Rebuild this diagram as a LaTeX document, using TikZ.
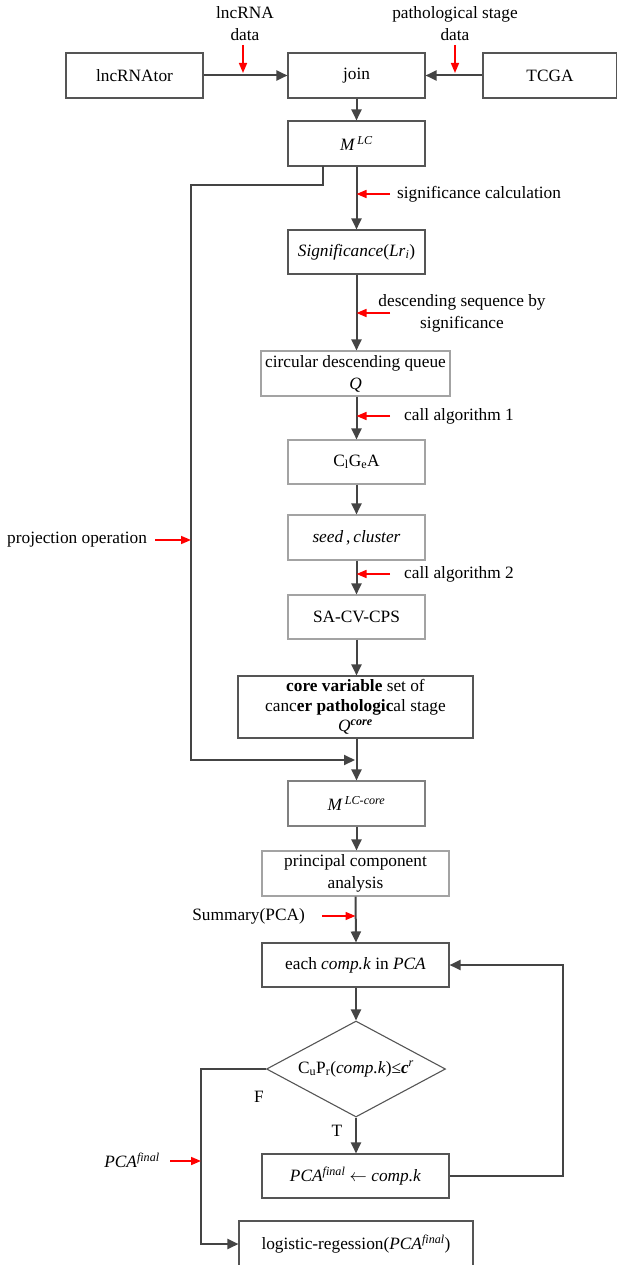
\documentclass[tikz,border=0pt]{standalone}
\usepackage{fontspec}
\setmainfont{Liberation Serif}
\usetikzlibrary{arrows.meta,shapes.geometric}
\definecolor{dk}{HTML}{444444}
\definecolor{bx}{HTML}{555555}
\definecolor{lt}{HTML}{A3A3A3}
\begin{document}
\begin{tikzpicture}[x=1pt,y=-1pt,
  base/.style={font=\fontsize{17.3}{22}\selectfont, inner sep=1pt, align=center},
  boxd/.style={base, draw=bx, line width=1.1pt, minimum width=137pt, minimum height=45pt},
  boxl/.style={boxd, draw=lt},
  arr/.style={draw=dk, line width=2pt, -{Triangle[length=11pt,width=10pt]}},
  ln/.style={draw=dk, line width=2pt},
  rarr/.style={draw=red, line width=1.6pt, -{Triangle[length=10pt,width=8pt]}},
  lbl/.style={base}]
\useasboundingbox (0,0) rectangle (617,1265);

% boxes
\node[boxd] (lnc) at (134.5,75.5) {lncRNAtor};
\node[boxd] (join) at (356.5,75.5) {join};
\node[boxd, minimum width=134pt] (tcga) at (550,75.5) {TCGA};
\node[boxd] (mlc) at (356.5,143.5) {\textit{M}\textsuperscript{\,\textit{LC}}};
\node[boxd, minimum height=44pt] (sig) at (356.5,252) {\textit{Significance}(\textit{Lr}\textsubscript{\textit{i}})};
\node[boxl, minimum width=189pt] (queue) at (355.5,373.5) {circular descending queue\\\textit{Q}};
\node[boxl, minimum height=44pt] (clgea) at (356.5,462) {C\textsubscript{l}G\textsubscript{e}A};
\node[boxl] (seed) at (356.5,537.5) {\textit{seed}\,,\,\textit{cluster}};
\node[boxl, minimum height=44pt] (sacv) at (356.5,617) {SA-CV-CPS};
\node[boxd, minimum width=235pt, minimum height=62pt, font=\fontsize{17.3}{20}\selectfont] (core) at (355.5,707)
  {\textbf{core variable} set of\\canc\textbf{er pathologic}al stage\\\textit{Q}\textsuperscript{\textbf{\textit{core}}}};
\node[boxl, draw=gray] (mcore) at (356.5,803.5) {\textit{M}\textsuperscript{\,\textit{LC-core}}};
\node[boxl, minimum width=187pt] (pca) at (355.5,873.5) {principal component\\analysis};
\node[boxd, minimum width=187pt, minimum height=44pt] (each) at (355.5,965) {each \textit{comp.k} in \textit{PCA}};
\node[base, shape=diamond, aspect=1.86, draw=bx, line width=1.1pt, minimum width=179pt, minimum height=96pt, inner sep=0pt] (dia) at (356,1069)
  {C\textsubscript{u}P\textsubscript{r}(\textit{comp.k})≤\textbf{\textit{c}}\textsuperscript{\textit{r}}};
\node[boxd, minimum width=187pt, minimum height=44pt] (pfin) at (355.5,1176) {\textit{PCA}\textsuperscript{\textit{final}} $\leftarrow$ \textit{comp.k}};
\node[boxd, minimum width=234pt, minimum height=46pt] (logi) at (356,1244) {logistic-regession(\textit{PCA}\textsuperscript{\textit{final}})};

% labels
\node[lbl] (llnc) at (245,24) {lncRNA\\data};
\node[lbl] (lpath) at (455,24) {pathological stage\\data};
\node[lbl, anchor=west] (lsig) at (396,194) {significance calculation};
\node[lbl] (ldesc) at (462,313) {descending sequence by\\significance};
\node[lbl, anchor=west] (lca1) at (403,416) {call algorithm 1};
\node[lbl, anchor=west] (lca2) at (403,574) {call algorithm 2};
\node[lbl, anchor=west] (lproj) at (6,540) {projection operation};
\node[lbl, anchor=east] (lsum) at (306,916) {Summary(PCA)};
\node[lbl] (lpf) at (132,1160) {\textit{PCA}\textsuperscript{\textit{final}}};
\node[lbl] (lF) at (259,1097) {F};
\node[lbl] (lT) at (337,1131) {T};

% main connectors
\draw[arr] (lnc) -- (join);
\draw[arr] (tcga) -- (join);
\draw[arr] (join) -- (mlc);
\draw[arr] (mlc) -- (sig);
\draw[arr] (sig) -- (queue.north -| sig.south);
\draw[arr] (queue.south -| clgea.north) -- (clgea);
\draw[arr] (clgea) -- (seed);
\draw[arr] (seed) -- (sacv);
\draw[arr] (sacv) -- (sacv |- core.north);
\draw[arr] (core.south -| mcore.north) -- (mcore);
\draw[arr] (mcore) -- (mcore |- pca.north);
\draw[arr] (pca.south -| each.north) -- (each.north -| dia.north);
\draw[arr] (each.south -| dia.north) -- (dia.north);
\draw[arr] (dia.south) -- (dia.south |- pfin.north);

% projection
\coordinate (p0) at (323,166);
\coordinate (p1) at (191,185);
\coordinate (p2) at (191,760);
\coordinate (p3) at (355,760);
\draw[arr] (p0) -- (p0 |- p1) -- (p1) -- (p2) -- (p3);

% loop back
\coordinate (lp) at (563,1176);
\draw[arr] (pfin.east) -- (lp) |- (each.east);

% false branch
\coordinate (fb) at (201,1069);
\draw[arr] (dia.west) -- (fb) |- (logi.west);

% red arrows
\coordinate (r1) at (243,45); \coordinate (r1e) at (243,73);
\coordinate (r2) at (455,45); \coordinate (r2e) at (455,73);
\draw[rarr] (r1) -- (r1e);
\draw[rarr] (r2) -- (r2e);
\coordinate (r3) at (390,194); \draw[rarr] (r3) -- (r3 -| sig.north);
\coordinate (r4) at (390,313); \draw[rarr] (r4) -- (r4 -| sig.north);
\coordinate (r5) at (390,416); \draw[rarr] (r5) -- (r5 -| sig.north);
\coordinate (r6) at (390,574); \draw[rarr] (r6) -- (r6 -| sig.north);
\coordinate (r7) at (155,540); \draw[rarr] (r7) -- (r7 -| p1);
\coordinate (r8) at (322,916); \draw[rarr] (r8) -- (r8 -| each.north);
\coordinate (r9) at (170,1161); \draw[rarr] (r9) -- (r9 -| fb);
\end{tikzpicture}
\end{document}
